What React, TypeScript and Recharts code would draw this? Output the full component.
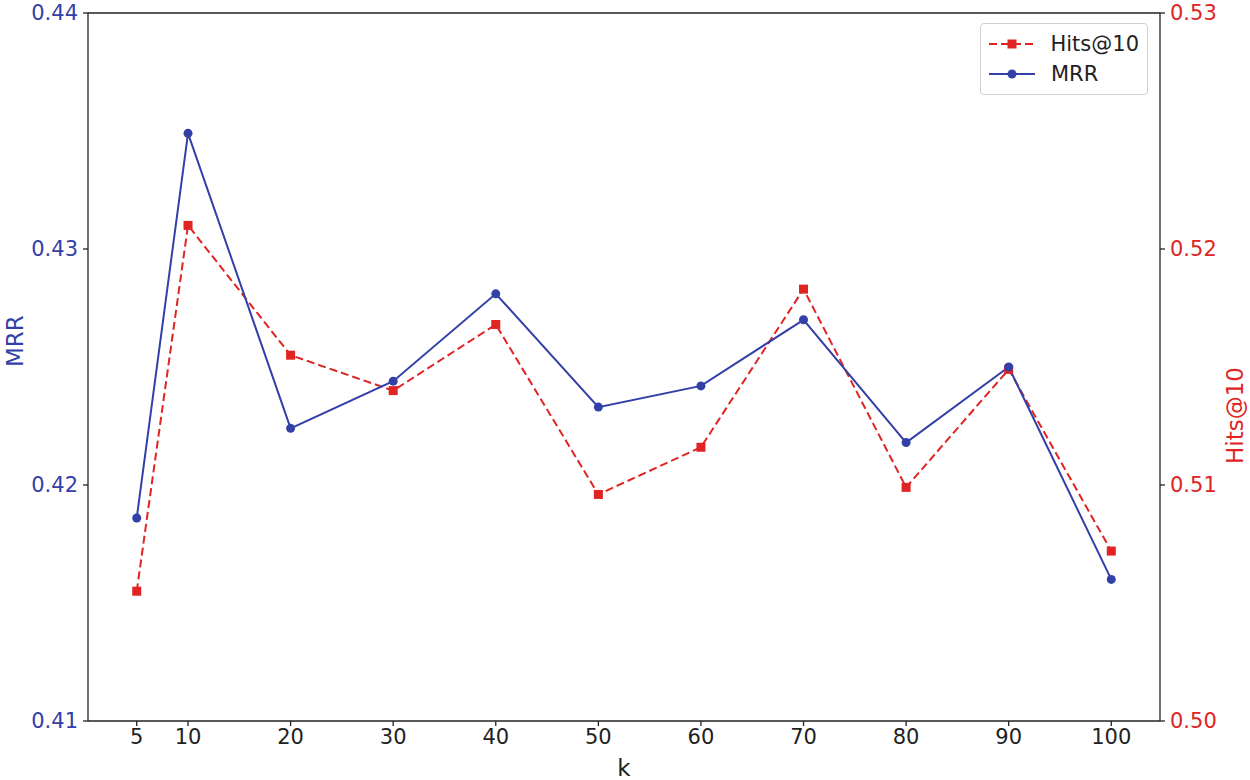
import {
  LineChart,
  Line,
  XAxis,
  YAxis,
  ReferenceLine,
} from "recharts";

const BLUE = "#3240a8";
const RED = "#e02424";
const FONT = "'DejaVu Sans', sans-serif";

const ks = [5, 10, 20, 30, 40, 50, 60, 70, 80, 90, 100];
const mrr = [0.4186, 0.4349, 0.4224, 0.4244, 0.4281, 0.4233, 0.4242, 0.427, 0.4218, 0.425, 0.416];
const hits10 = [0.5055, 0.521, 0.5155, 0.514, 0.5168, 0.5096, 0.5116, 0.5183, 0.5099, 0.5149, 0.5072];

const mrrTicks = [0.41, 0.42, 0.43, 0.44];
const hitsTicks = [0.5, 0.51, 0.52, 0.53];

const data = ks.map((k, i) => ({ k, mrr: mrr[i], hits: hits10[i] }));

const Square = (props: any) => {
  const { cx, cy } = props;
  if (cx == null || cy == null) return null;
  return <rect x={cx - 4.5} y={cy - 4.5} width={9} height={9} fill={RED} />;
};

// legend drawn as an overlay so it doesn't eat into the plot area
const LegendBox = () => (
  <div
    style={{
      position: "absolute",
      left: 980,
      top: 23,
      border: "1px solid #d0d0d0",
      borderRadius: 4,
      background: "white",
      padding: "5px 8px",
      fontFamily: FONT,
      fontSize: 21,
      color: "#222",
      width: 168,
      boxSizing: "border-box",
    }}
  >
    <div style={{ display: "flex", alignItems: "center", height: 30 }}>
      <svg width={46} height={14} style={{ marginRight: 16 }}>
        <line x1={0} y1={7} x2={46} y2={7} stroke={RED} strokeWidth={2} strokeDasharray="8 4" />
        <rect x={18.5} y={2.5} width={9} height={9} fill={RED} />
      </svg>
      Hits@10
    </div>
    <div style={{ display: "flex", alignItems: "center", height: 30 }}>
      <svg width={46} height={14} style={{ marginRight: 16 }}>
        <line x1={0} y1={7} x2={46} y2={7} stroke={BLUE} strokeWidth={2} />
        <circle cx={23} cy={7} r={4.5} fill={BLUE} />
      </svg>
      MRR
    </div>
  </div>
);

export default function App() {
  return (
    <div style={{ position: "absolute", left: 0, top: 0, width: 1250, height: 780, background: "white" }}>
      <LineChart
        width={1250}
        height={780}
        data={data}
        margin={{ top: 13, right: 0, bottom: 0, left: 0 }}
      >
        <XAxis
          dataKey="k"
          type="number"
          domain={[0.25, 104.75]}
          ticks={ks}
          allowDataOverflow
          height={59}
          stroke="#222"
          strokeWidth={1.3}
          tickSize={5}
          tickMargin={3}
          tick={{ fill: "#222", fontSize: 21, fontFamily: FONT }}
          label={{ value: "k", position: "insideBottom", offset: 4, fill: "#222", fontSize: 23, fontFamily: FONT }}
        />
        <YAxis
          yAxisId="left"
          domain={[0.41, 0.44]}
          ticks={mrrTicks}
          width={88}
          stroke="#222"
          strokeWidth={1.3}
          tickSize={5}
          tickMargin={5}
          tickFormatter={(v: number) => v.toFixed(2)}
          tick={{ fill: BLUE, fontSize: 21, fontFamily: FONT }}
          label={{ value: "MRR", angle: -90, position: "insideLeft", offset: 15, fill: BLUE, fontSize: 23, fontFamily: FONT }}
        />
        <YAxis
          yAxisId="right"
          orientation="right"
          domain={[0.5, 0.53]}
          ticks={hitsTicks}
          width={90}
          stroke="#222"
          strokeWidth={1.3}
          tickSize={5}
          tickMargin={5}
          tickFormatter={(v: number) => v.toFixed(2)}
          tick={{ fill: RED, fontSize: 21, fontFamily: FONT }}
          label={{ value: "Hits@10", angle: -90, position: "insideRight", offset: 15, fill: RED, fontSize: 23, fontFamily: FONT }}
        />
        <ReferenceLine yAxisId="left" y={0.44} stroke="#222" strokeWidth={1.3} />
        <Line
          yAxisId="right"
          dataKey="hits"
          name="Hits@10"
          stroke={RED}
          strokeWidth={2}
          strokeDasharray="8 4"
          dot={<Square />}
          activeDot={false}
          isAnimationActive={false}
        />
        <Line
          yAxisId="left"
          dataKey="mrr"
          name="MRR"
          stroke={BLUE}
          strokeWidth={2}
          dot={{ r: 4.5, fill: BLUE, stroke: BLUE, strokeWidth: 0 }}
          activeDot={false}
          isAnimationActive={false}
        />
      </LineChart>
      <LegendBox />
    </div>
  );
}
